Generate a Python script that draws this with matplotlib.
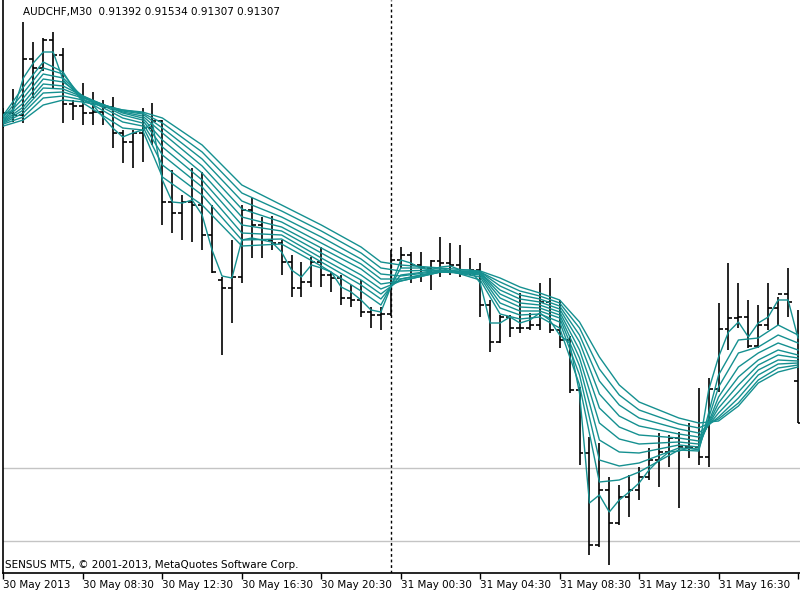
import matplotlib

matplotlib.use("Agg")
import matplotlib.pyplot as plt
import numpy as np

# AUDCHF M30, 81 bars from 30 May 04:30; quotes in points (1e-5)
opens = [
    91917, 91927, 91923, 92035, 92017, 92073, 92043, 91945, 91941, 91927,
    91929, 91939, 91887, 91869, 91887, 91897, 91911, 91749, 91727, 91749,
    91743, 91683, 91593, 91577, 91599, 91733, 91703, 91673, 91667, 91629,
    91577, 91589, 91629, 91603, 91597, 91557, 91553, 91529, 91523, 91525,
    91633, 91643, 91623, 91617, 91631, 91627, 91623, 91607, 91613, 91543,
    91469, 91519, 91497, 91497, 91503, 91549, 91493, 91473, 91373, 91247,
    91063, 91173, 91107, 91159, 91173, 91199, 91233, 91249, 91277, 91259,
    91259, 91239, 91375, 91495, 91517, 91519, 91461, 91503, 91537, 91565,
    91392,
]
highs = [
    91937, 91975, 92109, 92069, 92077, 92089, 92057, 91953, 91987, 91969,
    91953, 91959, 91893, 91893, 91937, 91947, 91913, 91813, 91763, 91817,
    91809, 91743, 91599, 91673, 91743, 91757, 91719, 91721, 91673, 91643,
    91629, 91639, 91659, 91609, 91603, 91583, 91593, 91539, 91539, 91653,
    91659, 91649, 91649, 91633, 91679, 91667, 91663, 91637, 91627, 91553,
    91523, 91523, 91567, 91527, 91587, 91597, 91553, 91481, 91379, 91279,
    91267, 91199, 91183, 91203, 91219, 91257, 91287, 91283, 91289, 91307,
    91377, 91397, 91547, 91627, 91587, 91553, 91543, 91587, 91559, 91617,
    91534,
]
lows = [
    91897, 91909, 91907, 91957, 92011, 91977, 91907, 91913, 91903, 91903,
    91903, 91857, 91827, 91817, 91829, 91863, 91703, 91687, 91673, 91669,
    91653, 91607, 91443, 91507, 91587, 91637, 91637, 91653, 91603, 91559,
    91559, 91579, 91579, 91569, 91543, 91539, 91519, 91497, 91493, 91521,
    91617, 91587, 91589, 91573, 91599, 91603, 91599, 91603, 91519, 91449,
    91467, 91479, 91487, 91493, 91493, 91487, 91457, 91367, 91223, 91043,
    91059, 91023, 91103, 91119, 91153, 91193, 91179, 91219, 91137, 91237,
    91223, 91219, 91369, 91453, 91497, 91457, 91457, 91493, 91503, 91519,
    91307,
]
closes = [
    91927, 91923, 92035, 92017, 92073, 92043, 91945, 91941, 91927, 91929,
    91939, 91887, 91869, 91887, 91897, 91911, 91749, 91727, 91749, 91743,
    91683, 91609, 91577, 91599, 91733, 91703, 91673, 91667, 91629, 91577,
    91589, 91629, 91603, 91597, 91557, 91553, 91529, 91523, 91525, 91633,
    91643, 91623, 91617, 91631, 91627, 91623, 91607, 91613, 91543, 91469,
    91519, 91497, 91497, 91503, 91549, 91493, 91473, 91373, 91247, 91063,
    91173, 91107, 91159, 91173, 91199, 91233, 91249, 91277, 91259, 91259,
    91239, 91375, 91495, 91517, 91519, 91461, 91503, 91537, 91565, 91549,
    91307,
]

# fastest moving average, one value per bar
ma_fast = [
    91923, 91933, 91997, 92027, 92049, 92049, 91993, 91973, 91953, 91943,
    91919, 91897, 91879, 91887, 91893, 91907, 91793, 91749, 91747, 91753,
    91723, 91653, 91601, 91597, 91673, 91677, 91673, 91669, 91649, 91613,
    91599, 91623, 91617, 91609, 91579, 91569, 91553, 91533, 91529, 91579,
    91633, 91627, 91617, 91613, 91619, 91621, 91613, 91613, 91587, 91507,
    91507, 91519, 91507, 91513, 91527, 91513, 91483, 91467, 91367, 91147,
    91163, 91129, 91153, 91169, 91187, 91213, 91233, 91249, 91251, 91257,
    91253, 91373, 91439, 91489, 91509, 91479, 91507, 91519, 91553, 91553,
    91477,
]

# slower averages of the fan, read at the bars listed in ma_bars
ma_bars = [0, 2, 4, 6, 8, 12, 14, 16, 20, 24, 28, 32, 36, 38, 40, 44,
           48, 50, 52, 54, 56, 58, 60, 62, 64, 68, 70, 72, 74, 76, 78, 80]
ma_2 = [91923, 91979, 92029, 92009, 91947, 91897, 91893, 91799, 91743, 91661, 91665,
        91621, 91571, 91543, 91617, 91617, 91593, 91525, 91515, 91519, 91497, 91383,
        91189, 91193, 91209, 91253, 91251, 91403, 91473, 91477, 91503, 91483]
ma_3 = [91919, 91967, 92017, 92005, 91955, 91909, 91901, 91823, 91763, 91673, 91675,
        91629, 91583, 91555, 91603, 91613, 91599, 91537, 91523, 91525, 91509, 91403,
        91233, 91221, 91227, 91257, 91255, 91379, 91447, 91459, 91483, 91467]
ma_4 = [91915, 91957, 92005, 91997, 91959, 91917, 91907, 91843, 91779, 91687, 91683,
        91637, 91593, 91565, 91595, 91611, 91603, 91547, 91531, 91531, 91517, 91421,
        91273, 91249, 91247, 91263, 91259, 91359, 91419, 91447, 91467, 91453]
ma_5 = [91913, 91947, 91995, 91989, 91961, 91923, 91913, 91859, 91793, 91703, 91691,
        91647, 91603, 91575, 91591, 91609, 91605, 91557, 91539, 91537, 91523, 91437,
        91307, 91275, 91265, 91269, 91265, 91347, 91399, 91433, 91453, 91443]
ma_6 = [91911, 91939, 91985, 91981, 91961, 91927, 91917, 91873, 91807, 91719, 91699,
        91657, 91615, 91585, 91591, 91609, 91607, 91565, 91547, 91543, 91529, 91453,
        91337, 91299, 91283, 91277, 91271, 91337, 91383, 91423, 91443, 91437]
ma_7 = [91909, 91933, 91977, 91975, 91959, 91929, 91921, 91887, 91821, 91735, 91709,
        91667, 91625, 91595, 91595, 91609, 91607, 91573, 91555, 91549, 91535, 91469,
        91365, 91321, 91301, 91285, 91279, 91327, 91369, 91413, 91433, 91431]
ma_8 = [91907, 91927, 91967, 91969, 91957, 91931, 91925, 91897, 91835, 91751, 91719,
        91679, 91635, 91605, 91601, 91611, 91609, 91581, 91563, 91555, 91541, 91483,
        91391, 91343, 91317, 91295, 91287, 91319, 91357, 91403, 91425, 91427]
ma_9 = [91905, 91919, 91957, 91961, 91953, 91933, 91927, 91907, 91849, 91767, 91731,
        91691, 91647, 91617, 91611, 91613, 91609, 91589, 91571, 91561, 91547, 91497,
        91415, 91363, 91333, 91305, 91297, 91315, 91347, 91393, 91417, 91423]
ma_10 = [91901, 91913, 91943, 91953, 91949, 91933, 91929, 91917, 91863, 91783, 91743,
         91703, 91659, 91629, 91623, 91617, 91611, 91597, 91579, 91567, 91553, 91509,
         91439, 91383, 91349, 91317, 91307, 91311, 91341, 91387, 91409, 91419]

levels = [91217, 91071]
separator_bar = 39  # 31 May 00:00
tick_bars = list(range(0, 81, 8))
tick_labels = ["30 May 2013", "30 May 08:30", "30 May 12:30", "30 May 16:30",
               "30 May 20:30", "31 May 00:30", "31 May 04:30", "31 May 08:30",
               "31 May 12:30", "31 May 16:30", ""]

PT = 1e-5
TEAL = "#159090"

fig = plt.figure(figsize=(8, 6), dpi=100)
ax = fig.add_axes((3 / 800, 27 / 600, 797 / 800, 573 / 600))

bars = np.arange(len(opens))
o, h, l, c = (np.array(v) * PT for v in (opens, highs, lows, closes))
ax.vlines(bars, l, h, color="black", lw=1.2, zorder=2)
ax.hlines(o, bars - 0.4, bars, color="black", lw=1.2, zorder=2)
ax.hlines(c, bars, bars + 0.4, color="black", lw=1.2, zorder=2)

for lvl in levels:
    ax.axhline(lvl * PT, color="#c4c4c4", lw=1, zorder=1)
ax.axvline(separator_bar, color="black", lw=1, ls=(0, (2, 2)), zorder=1)

ax.plot(bars, np.array(ma_fast) * PT, color=TEAL, lw=1, zorder=3)
for line in (ma_2, ma_3, ma_4, ma_5, ma_6, ma_7, ma_8, ma_9, ma_10):
    ax.plot(ma_bars, np.array(line) * PT, color=TEAL, lw=1, zorder=3)

ax.set_xlim(-0.05, 80.2)
ax.set_ylim(91007 * PT, 92153 * PT)
for side in ("top", "right"):
    ax.spines[side].set_visible(False)
for side in ("left", "bottom"):
    ax.spines[side].set_linewidth(1.2)
ax.set_yticks([])
ax.set_xticks(tick_bars)
ax.set_xticklabels(tick_labels, fontsize=7.5)
for lab in ax.get_xticklabels():
    lab.set_horizontalalignment("left")
ax.tick_params(axis="x", length=4, width=1, pad=1, direction="out")

fig.text(23 / 800, 1 - 12 / 600, "AUDCHF,M30  0.91392 0.91534 0.91307 0.91307",
         fontsize=7.5, va="center")
fig.text(5 / 800, 1 - 565 / 600, "SENSUS MT5, © 2001-2013, MetaQuotes Software Corp.",
         fontsize=7.5, va="center")

fig.savefig("out.png", dpi=100, facecolor="white")
